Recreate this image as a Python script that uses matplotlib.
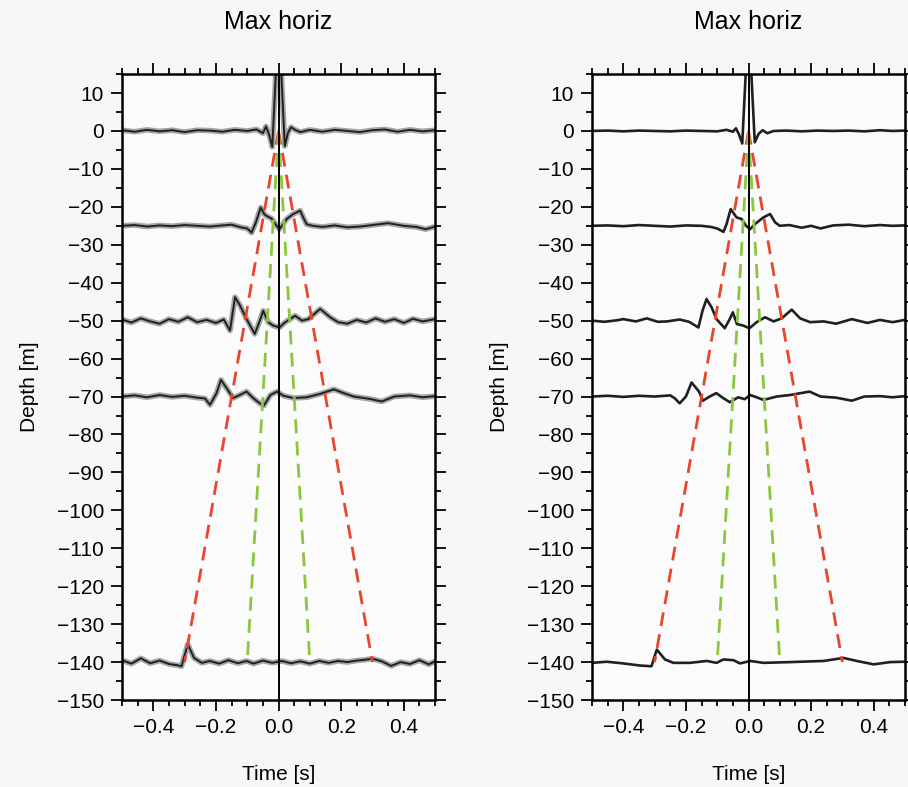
import matplotlib
matplotlib.use("Agg")
from matplotlib import pyplot as plt
from matplotlib.ticker import MultipleLocator

plt.rcParams['font.family'] = ['Liberation Sans', 'DejaVu Sans']

# receiver depths [m]
depths = [0, -25, -50, -70, -140]

# left panel: stacked traces (time [s], amplitude [m] relative to depth)
t_l0 = [-0.5, -0.46, -0.42, -0.38, -0.34, -0.30, -0.26, -0.22, -0.18, -0.14, -0.10, -0.07, -0.05,
        -0.04, -0.03, -0.02, 0.0, 0.02, 0.03, 0.04, 0.055, 0.07, 0.10, 0.14, 0.18, 0.22, 0.26,
        0.30, 0.34, 0.38, 0.42, 0.46, 0.5]
a_l0 = [0.2, -0.2, 0.3, -0.1, 0.2, -0.3, 0.2, 0.1, -0.2, 0.3, 0.0, 0.4, -0.6,
        1.2, -1.0, -4.2, 30, -4.0, -0.5, 1.0, 0.2, -0.3, 0.3, -0.2, 0.3, 0.0, -0.3,
        0.2, 0.4, -0.2, 0.3, -0.1, 0.2]

t_l25 = [-0.5, -0.46, -0.42, -0.38, -0.34, -0.30, -0.26, -0.22, -0.18, -0.15, -0.12, -0.10, -0.086,
         -0.072, -0.057, -0.045, -0.038, -0.022, -0.006, 0.003, 0.015, 0.026, 0.047, 0.069, 0.08,
         0.09, 0.11, 0.14, 0.18, 0.22, 0.26, 0.30, 0.35, 0.40, 0.44, 0.47, 0.5]
a_l25 = [0.0, 0.2, -0.2, 0.1, -0.1, 0.2, 0.0, -0.2, 0.1, 0.3, -0.4, -0.7, -1.8,
         1.0, 4.8, 3.0, 2.6, 1.9, 0.0, -0.9, 0.5, 1.8, 3.1, 4.0, 2.0,
         0.4, 0.0, -0.3, 0.1, -0.4, -0.2, 0.2, 0.7, 0.0, -0.3, -0.9, -0.2]

t_l50 = [-0.5, -0.47, -0.44, -0.41, -0.38, -0.35, -0.32, -0.29, -0.26, -0.23, -0.20, -0.175, -0.155,
         -0.139, -0.123, -0.102, -0.076, -0.062, -0.049, -0.033, -0.017, 0.003, 0.02, 0.053, 0.075,
         0.095, 0.133, 0.165, 0.19, 0.22, 0.25, 0.28, 0.31, 0.34, 0.37, 0.40, 0.43, 0.46, 0.5]
a_l50 = [0.3, -0.5, 0.6, -0.2, -0.8, 0.4, -0.3, 0.9, -0.4, 0.2, -0.6, 0.3, -2.6,
         6.2, 4.0, 0.4, -3.5, -0.5, 2.6, -0.4, -1.3, -1.8, -0.5, 1.3, 0.0,
         0.4, 3.1, 0.9, -0.4, -0.8, 0.2, -0.5, 0.6, -0.3, 0.4, -0.6, 0.5, -0.2, 0.4]

t_l70 = [-0.5, -0.46, -0.42, -0.38, -0.34, -0.30, -0.26, -0.235, -0.219, -0.198, -0.184, -0.166,
         -0.145, -0.124, -0.102, -0.081, -0.06, -0.047, -0.026, -0.005, 0.016, 0.048, 0.09, 0.133,
         0.177, 0.208, 0.24, 0.29, 0.33, 0.37, 0.42, 0.46, 0.5]
a_l70 = [0.0, 0.3, -0.2, 0.4, -0.1, 0.2, -0.3, -0.5, -2.2, 0.9, 4.4, 2.2,
         -0.4, 0.4, 1.3, -0.4, -1.8, -2.4, 0.4, 1.3, 0.2, -0.4, -0.2, 0.7,
         1.9, 0.9, 0.0, -0.6, -1.3, 0.0, 0.3, -0.2, 0.1]

t_l140 = [-0.5, -0.47, -0.44, -0.41, -0.38, -0.35, -0.325, -0.31, -0.29, -0.27, -0.245, -0.22, -0.19,
          -0.16, -0.13, -0.102, -0.08, -0.05, -0.02, 0.01, 0.04, 0.07, 0.10, 0.13, 0.16, 0.19, 0.22,
          0.25, 0.275, 0.30, 0.33, 0.36, 0.39, 0.42, 0.45, 0.48, 0.5]
a_l140 = [0.5, -0.4, 1.0, -0.3, 0.4, -0.5, -0.8, -1.1, 4.7, 1.1, -0.2, 0.3, -0.4,
          0.5, -0.3, 0.3, -0.4, 0.4, -0.2, 0.3, -0.3, 0.2, -0.4, 0.3, -0.2, 0.3, 0.0,
          0.4, 0.6, 0.9, 0.2, -1.0, 0.0, -0.5, 0.5, -0.6, 0.2]

# right panel: single traces
t_r0 = [-0.5, -0.45, -0.40, -0.35, -0.30, -0.25, -0.20, -0.15, -0.10, -0.07, -0.05, -0.04, -0.03,
        -0.02, 0.0, 0.02, 0.032, 0.045, 0.06, 0.08, 0.12, 0.17, 0.22, 0.27, 0.32, 0.37, 0.42, 0.46, 0.5]
a_r0 = [0.0, 0.1, -0.1, 0.1, 0.0, -0.1, 0.1, 0.0, -0.1, 0.3, -0.2, 0.7, -1.0,
        -3.3, 30, -3.0, -0.8, 0.2, -0.6, 0.0, 0.1, -0.1, 0.1, 0.0, 0.1, -0.1, 0.2, 0.0, 0.1]

t_r25 = [-0.5, -0.45, -0.40, -0.35, -0.30, -0.25, -0.20, -0.15, -0.12, -0.10, -0.08, -0.07, -0.057,
         -0.038, -0.022, -0.008, 0.005, 0.02, 0.047, 0.069, 0.085, 0.10, 0.13, 0.17, 0.20, 0.23,
         0.27, 0.32, 0.37, 0.42, 0.46, 0.5]
a_r25 = [0.0, 0.1, -0.1, 0.2, 0.0, -0.2, 0.1, 0.0, -0.3, -0.7, -1.6, 0.5, 4.4,
         2.2, 1.8, 0.0, -0.9, 0.4, 2.2, 3.1, 0.9, 0.0, 0.2, -0.5, 0.0, -0.7,
         0.1, 0.3, -0.1, 0.2, 0.0, 0.1]

t_r50 = [-0.5, -0.46, -0.42, -0.40, -0.36, -0.325, -0.29, -0.26, -0.22, -0.19, -0.16, -0.147, -0.134,
         -0.118, -0.102, -0.076, -0.06, -0.05, -0.037, -0.017, 0.003, 0.026, 0.053, 0.08, 0.106,
         0.138, 0.165, 0.197, 0.24, 0.28, 0.33, 0.38, 0.42, 0.46, 0.5]
a_r50 = [0.0, -0.3, 0.1, 0.4, -0.2, 0.6, -0.3, -0.2, 0.3, -0.3, -1.8, 2.6, 5.7,
         3.5, 0.4, -2.0, 0.4, 2.2, -0.9, -1.3, -2.0, -0.4, 0.9, -0.2, 0.6,
         2.9, 0.6, -0.4, -0.2, -0.8, 0.4, -0.6, 0.2, -0.4, 0.2]

t_r70 = [-0.5, -0.45, -0.40, -0.35, -0.30, -0.25, -0.235, -0.22, -0.20, -0.182, -0.158, -0.146,
         -0.124, -0.103, -0.081, -0.06, -0.033, -0.012, 0.005, 0.026, 0.048, 0.09, 0.133, 0.195,
         0.23, 0.28, 0.33, 0.37, 0.42, 0.46, 0.5]
a_r70 = [0.0, 0.2, -0.1, 0.2, 0.0, 0.3, -0.5, -1.8, 0.0, 3.7, 1.3, -1.1,
         0.0, 0.9, -0.4, -1.5, -0.2, -0.7, 0.4, -0.2, -0.9, 0.0, 0.4, 1.3,
         0.0, -0.3, -1.1, 0.0, 0.1, -0.2, 0.1]

t_r140 = [-0.5, -0.453, -0.40, -0.347, -0.31, -0.293, -0.267, -0.24, -0.187, -0.133, -0.102, -0.08,
          -0.048, -0.027, 0.005, 0.048, 0.133, 0.24, 0.303, 0.346, 0.40, 0.452, 0.5]
a_r140 = [-0.2, 0.1, -0.35, -0.9, -1.1, 3.3, 0.7, -0.2, -0.2, 0.3, -0.2, 0.7,
          0.5, -0.35, 0.3, -0.2, 0.0, 0.3, 1.1, 0.3, -0.6, 0.0, 0.1]

left_traces = [(t_l0, a_l0), (t_l25, a_l25), (t_l50, a_l50), (t_l70, a_l70), (t_l140, a_l140)]
right_traces = [(t_r0, a_r0), (t_r25, a_r25), (t_r50, a_r50), (t_r70, a_r70), (t_r140, a_r140)]

# move-out cones: apex (0, 0) to times at the deepest receiver
cone_depth = [0, -140]
red_times = [-0.3, 0.3]
green_times = [-0.1, 0.1]

fig = plt.figure(figsize=(9.08, 7.87), dpi=100, facecolor='#f7f7f7')
ax_l = fig.add_axes([0.1344, 0.1105, 0.3447, 0.7954])
ax_r = fig.add_axes([0.652, 0.1105, 0.3447, 0.7954])

for ax, traces, stacked in [(ax_l, left_traces, True), (ax_r, right_traces, False)]:
    ax.set_facecolor('#fbfbfb')
    for d, (t, a) in zip(depths, traces):
        y = [d + v for v in a]
        if stacked:
            ax.plot(t, y, color='#8a8a8a', lw=4.0, alpha=0.75, solid_joinstyle='round')
            ax.plot(t, y, color='#202020', lw=1.4)
        else:
            ax.plot(t, y, color='#202020', lw=1.9)
    for tt in red_times:
        ax.plot([0, tt], cone_depth, color='#e8452c', lw=2.0, dashes=(5, 3))
    for tt in green_times:
        ax.plot([0, tt], cone_depth, color='#8cc63f', lw=2.0, dashes=(5, 3))
    ax.axvline(0, color='black', lw=1.4)

    ax.set_xlim(-0.5, 0.5)
    ax.set_ylim(-150, 15)
    ax.xaxis.set_minor_locator(MultipleLocator(0.05))
    ax.yaxis.set_major_locator(MultipleLocator(10))
    ax.yaxis.set_minor_locator(MultipleLocator(5))
    ax.tick_params(which='both', direction='out', top=True, right=True, width=1.3)
    ax.tick_params(which='major', length=8, labelsize=15, pad=5)
    ax.tick_params(which='minor', length=4.5)
    for s in ax.spines.values():
        s.set_linewidth(1.8)
    ax.set_xticks([-0.4, -0.2, 0.0, 0.2, 0.4])
    ax.set_xticklabels(['\u22120.4', '\u22120.2', '0.0', '0.2', '0.4'])
    ax.set_xlabel('Time [s]', fontsize=15, labelpad=20)
    ax.set_ylabel('Depth [m]', fontsize=15, labelpad=13)
    pos = ax.get_position()
    fig.text(pos.x0 + pos.width / 2, 0.972, 'Max horiz',
             ha='center', va='center', fontsize=18)

fig.savefig('out.png', dpi=100, facecolor=fig.get_facecolor())
